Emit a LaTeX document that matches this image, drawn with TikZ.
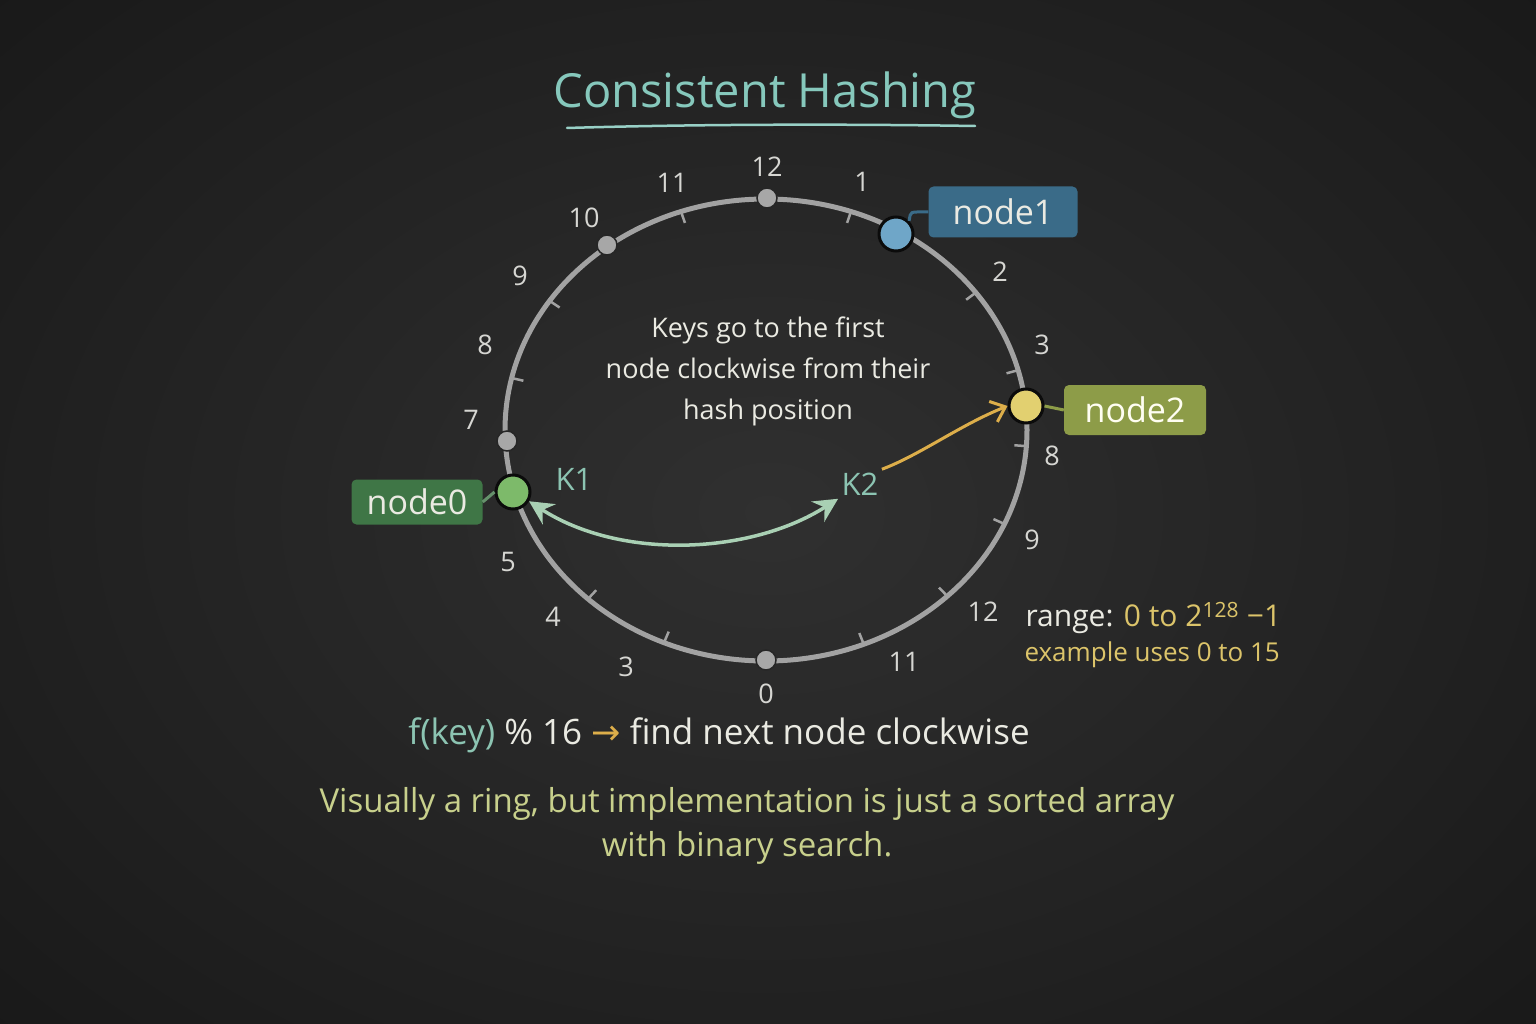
\documentclass[tikz,border=0pt]{standalone}
\usepackage{fontspec}
\setmainfont{Open Sans}
\newfontfamily\symfont{DejaVu Sans}
\usetikzlibrary{arrows.meta}
\definecolor{bg}{HTML}{262626}
\definecolor{bgin}{HTML}{303030}
\definecolor{bgout}{HTML}{191919}
\definecolor{ringc}{HTML}{A2A2A2}
\definecolor{numc}{HTML}{D6D6D2}
\definecolor{titlec}{HTML}{86C8BC}
\definecolor{tealc}{HTML}{8CC4B2}
\definecolor{chalk}{HTML}{EAEAE2}
\definecolor{yellowc}{HTML}{DCC46A}
\definecolor{capc}{HTML}{C8D08C}
\definecolor{orangec}{HTML}{DDAE4A}
\definecolor{greenbox}{HTML}{3F7646}
\definecolor{greendot}{HTML}{7DBA6A}
\definecolor{bluebox}{HTML}{3A6B88}
\definecolor{bluedot}{HTML}{6FA6C8}
\definecolor{olivebox}{HTML}{8D9C48}
\definecolor{yellowdot}{HTML}{E2D070}
\definecolor{arrowc}{HTML}{A9D0B4}
\tikzset{
  fs/.style={font=\fontsize{#1}{#1}\selectfont},
  numlbl/.style={text=numc, fs=27},
  tickmark/.style={draw=ringc, line width=2.5pt},
  smalldot/.style={circle, fill=ringc!95!white, draw=bg, line width=1.5pt, minimum size=20pt, inner sep=0pt},
  bigdot/.style={circle, draw=black!70!bg, line width=3pt, minimum size=34pt, inner sep=0pt},
  hostbox/.style={rounded corners=5pt, inner sep=0pt, text=chalk, fs=34},
  keyhead/.tip={Stealth[length=24pt,width=24pt,inset=8pt]},
}
\begin{document}
\begin{tikzpicture}[x=1pt,y=-1pt]
\useasboundingbox (0,0) rectangle (1536,1024);
\fill[bgout] (0,0) rectangle (1536,1024);
\shade[inner color=bgin, outer color=bgout] (-300,-250) rectangle (1836,1274);

% title
\node[text=titlec, fs=47] (title) at (765,95) {Consistent Hashing};
\coordinate (ulA) at (567,128);
\coordinate (ulB) at (975,126);
\draw[titlec!85!white, line width=2.5pt, line cap=round] (ulA) .. controls (700,124) and (850,124) .. (ulB);

% ring
\draw[ringc, line width=5pt] (766,430) ellipse [x radius=261, y radius=231];
\foreach \t in {109,71,36.5,15,-4,-24,-46,-68,-113,-133,167,146}
  \draw[tickmark] ({766+262*cos(\t)},{430-232*sin(\t)}) -- ({766+249*cos(\t)},{430-219*sin(\t)});

% small gray dots
\node[smalldot] (d12) at (767,198) {};
\node[smalldot] (d10) at (607,245) {};
\node[smalldot] (d7) at (507,441) {};
\node[smalldot] (d0) at (766,660) {};

% number labels
\node[numlbl] (l12) at (767,167) {12};
\node[numlbl] (l11) at (672,183) {11};
\node[numlbl] (l10) at (584,218) {10};
\node[numlbl] (l9) at (520,276) {9};
\node[numlbl] (l8) at (485,345) {8};
\node[numlbl] (l7) at (471,420) {7};
\node[numlbl] (l5) at (508,562) {5};
\node[numlbl] (l4) at (553,617) {4};
\node[numlbl] (l3) at (626,667) {3};
\node[numlbl] (l0) at (766,694) {0};
\node[numlbl] (r11) at (904,662) {11};
\node[numlbl] (r12) at (983,612) {12};
\node[numlbl] (r9) at (1032,540) {9};
\node[numlbl] (r8) at (1052,456) {8};
\node[numlbl] (r3) at (1042,345) {3};
\node[numlbl] (r2) at (1000,272) {2};
\node[numlbl] (r1) at (862,182) {1};

% host boxes
\node[hostbox, fill=greenbox, minimum width=131pt, minimum height=45pt] (node0) at (417,502) {node0};
\node[hostbox, fill=bluebox, minimum width=149pt, minimum height=51pt] (node1) at (1003,212) {node1};
\node[hostbox, fill=olivebox, minimum width=142pt, minimum height=50pt, text=white!95!yellow] (node2) at (1135,410) {node2};

% host dots
\node[bigdot, fill=greendot] (n0dot) at (513,492) {};
\node[bigdot, fill=bluedot] (n1dot) at (896,234) {};
\node[bigdot, fill=yellowdot] (n2dot) at (1026,406) {};

% box-to-dot connectors
\draw[greenbox!80!white, line width=3pt] (node0.east) -- (n0dot.west);
\draw[bluebox, line width=3pt] (node1.west) .. controls +(-20,0) and +(2,-10) .. (n1dot.north east);
\draw[olivebox, line width=3pt] (n2dot.east) -- (node2.west);

% center text
\node[text=chalk, align=center, font=\fontsize{27}{41}\selectfont] (keys) at (768,371)
  {Keys go to the first\\node clockwise from their\\hash position};

% key labels
\node[text=tealc, fs=31] (K1) at (574,479) {K1};
\node[text=tealc, fs=31] (K2) at (860,484) {K2};

% arrows
\draw[arrowc, line width=3.5pt, {keyhead}-{keyhead}]
  (n0dot.-30) .. controls (620,560) and (750,555) .. (K2.south west);
\draw[orangec, line width=3pt, -{Straight Barb[length=13pt,width=22pt]}]
  (K2.north east) .. controls (920,455) and (960,425) .. (n2dot.west);

% formula line
\node[fs=35, text=chalk] (formula) at (719,735)
  {\textcolor{tealc}{f(key)} \% 16 \textcolor{orangec}{\symfont →} find next node clockwise};

% range note
\node[anchor=west, fs=30, text=chalk] (range) at (1022,618)
  {range: \textcolor{yellowc}{0 to 2\textsuperscript{128} −1}};
\node[anchor=west, fs=26, text=yellowc] (example) at (1021,655) {example uses 0 to 15};

% caption
\node[text=capc, align=center, font=\fontsize{33}{44}\selectfont] (caption) at (747,826)
  {Visually a ring, but implementation is just a sorted array\\with binary search.};
\end{tikzpicture}
\end{document}
